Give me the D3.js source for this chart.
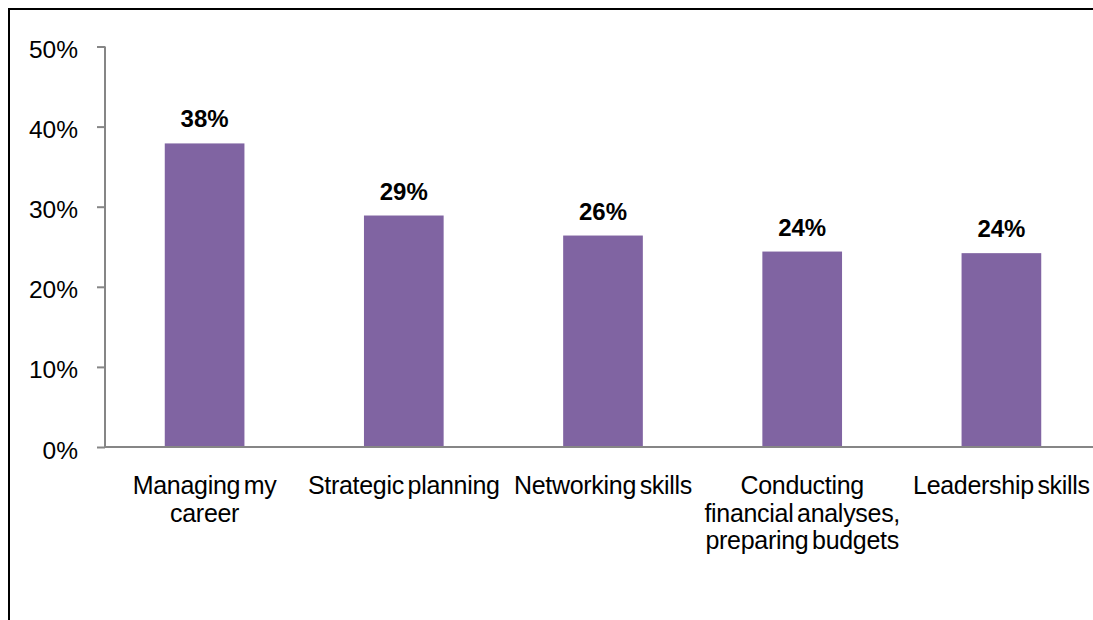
<!DOCTYPE html>
<html>
<head>
<meta charset="utf-8">
<script src="https://cdn.jsdelivr.net/npm/d3@7"></script>
<style>
  html, body { margin: 0; padding: 0; background: #fff; }
  svg { display: block; }
</style>
</head>
<body>
<script>
const categories = [
  ["Managing my", "career"],
  ["Strategic planning"],
  ["Networking skills"],
  ["Conducting", "financial analyses,", "preparing budgets"],
  ["Leadership skills"]
];
const values = [37.9, 28.9, 26.4, 24.4, 24.2];
const valueLabels = ["38%", "29%", "26%", "24%", "24%"];
const yTicks = [0, 10, 20, 30, 40, 50];

const W = 1093, H = 620;
const font = "'Liberation Sans', Arial, sans-serif";
const svg = d3.select("body").append("svg").attr("width", W).attr("height", H);

// frame (top and left visible)
svg.append("line").attr("x1", 9).attr("x2", W).attr("y1", 9).attr("y2", 9)
  .attr("stroke", "#000").attr("stroke-width", 2);
svg.append("line").attr("x1", 9).attr("x2", 9).attr("y1", 8).attr("y2", H)
  .attr("stroke", "#000").attr("stroke-width", 2);

const x = d3.scaleBand().domain(d3.range(categories.length))
  .range([105, 1101]).paddingInner(0.6).paddingOuter(0.3);
const y = d3.scaleLinear().domain([0, 50]).range([447, 46.5]);

// bars
svg.selectAll("rect.bar").data(values).join("rect")
  .attr("class", "bar")
  .attr("x", (d, i) => x(i))
  .attr("width", x.bandwidth())
  .attr("y", d => y(d))
  .attr("height", d => y(0) - y(d))
  .attr("fill", "#8064A2");

// y axis
const yAxis = d3.axisLeft(y).tickValues(yTicks).tickSize(8).tickPadding(19)
  .tickFormat(d => d + "%");
const gy = svg.append("g").attr("transform", "translate(105,0)").call(yAxis);
gy.select(".domain").attr("stroke", "#868686").attr("stroke-width", 2)
  .attr("d", `M0,${y(50)}V${y(0)}`);
gy.selectAll(".tick line").attr("stroke", "#868686").attr("stroke-width", 2);
gy.selectAll(".tick text").attr("font-family", font).attr("font-size", 24.5)
  .attr("fill", "#000").attr("dy", "0.45em");

// x baseline
svg.append("line").attr("x1", 104).attr("x2", 1101).attr("y1", y(0)).attr("y2", y(0))
  .attr("stroke", "#868686").attr("stroke-width", 2);

// value labels
svg.selectAll("text.val").data(values).join("text")
  .attr("class", "val")
  .attr("x", (d, i) => x(i) + x.bandwidth() / 2)
  .attr("y", d => y(d) - 16)
  .attr("text-anchor", "middle")
  .attr("font-family", font).attr("font-size", 24).attr("font-weight", "bold")
  .attr("fill", "#000")
  .text((d, i) => valueLabels[i]);

// category labels
const cat = svg.selectAll("text.cat").data(categories).join("text")
  .attr("class", "cat")
  .attr("x", (d, i) => x(i) + x.bandwidth() / 2)
  .attr("y", 494)
  .attr("text-anchor", "middle")
  .attr("font-family", font).attr("font-size", 25)
  .attr("letter-spacing", -0.3)
  .attr("word-spacing", -3)
  .attr("fill", "#000");
cat.each(function(lines, i) {
  const t = d3.select(this);
  lines.forEach((ln, j) => {
    t.append("tspan").attr("x", x(i) + x.bandwidth() / 2)
      .attr("y", 494 + j * 27.5).text(ln);
  });
});
</script>
</body>
</html>
